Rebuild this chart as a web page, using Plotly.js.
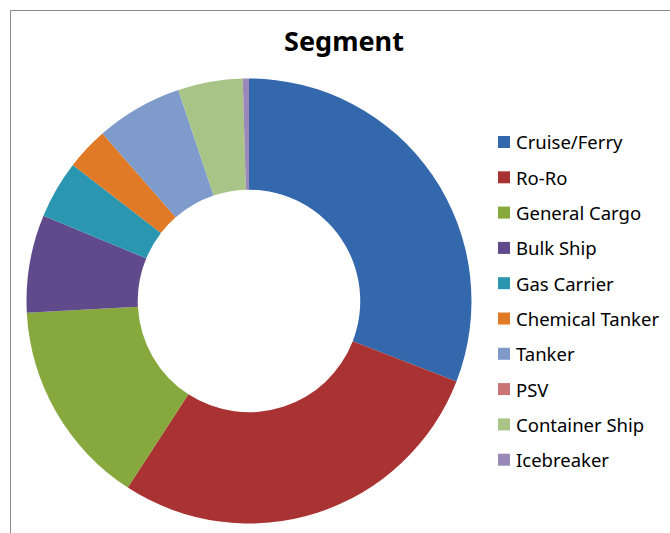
<!DOCTYPE html>
<html>
<head>
<meta charset="utf-8">
<script src="https://cdn.plot.ly/plotly-3.0.1.min.js"></script>
<style>html,body{margin:0;padding:0;background:#fff;}#chart{width:670px;height:533px;}</style>
</head>
<body>
<div id="chart"></div>
<script>
var segments = ["Cruise/Ferry","Ro-Ro","General Cargo","Bulk Ship","Gas Carrier","Chemical Tanker","Tanker","PSV","Container Ship","Icebreaker"];
var shares = [30.9, 28.3, 15.0, 7.1, 4.2, 3.1, 6.3, 0, 4.7, 0.45];
var colors = ["#3468AD","#A93232","#86A83C","#614A8C","#2A96B0","#E07A26","#7E9BCB","#C97575","#A9C487","#9A88B8"];

var W = 670, H = 533;
function px(x){ return x / W; }
function py(y){ return 1 - y / H; }

var cx = 249, cy = 301, R = 222.5;

var trace = {
  type: "pie",
  labels: segments,
  values: shares,
  marker: { colors: colors, line: { width: 0 } },
  hole: 0.5,
  sort: false,
  direction: "clockwise",
  rotation: 0,
  textinfo: "none",
  hoverinfo: "label+percent",
  showlegend: false,
  domain: { x: [px(cx - R), px(cx + R)], y: [py(cy + R), py(cy - R)] }
};

var legendFont = { family: "Noto Sans, Open Sans, sans-serif", size: 18.5, color: "#000" };
var annotations = [];
var shapes = [
  { type: "rect", xref: "paper", yref: "paper", x0: px(10.5), x1: px(700), y0: py(560), y1: py(10.5),
    line: { color: "#8a8a8a", width: 1 }, fillcolor: "rgba(0,0,0,0)", layer: "below" }
];
for (var i = 0; i < segments.length; i++) {
  var yc = 142 + i * 35.3;
  shapes.push({ type: "rect", xref: "paper", yref: "paper",
    x0: px(498), x1: px(510), y0: py(yc + 6), y1: py(yc - 6),
    fillcolor: colors[i], line: { width: 0 } });
  annotations.push({ xref: "paper", yref: "paper", x: px(514), y: py(yc),
    xanchor: "left", yanchor: "middle", showarrow: false,
    text: segments[i], font: legendFont });
}

var layout = {
  width: W, height: H,
  margin: { l: 0, r: 0, t: 0, b: 0 },
  paper_bgcolor: "#fff",
  title: { text: "<b>Segment</b>", x: px(344), y: py(42), xanchor: "center", yanchor: "middle",
    font: { family: "Noto Sans, Open Sans, sans-serif", size: 27, color: "#000" } },
  showlegend: false,
  shapes: shapes,
  annotations: annotations
};

Plotly.newPlot("chart", [trace], layout, { displayModeBar: false, staticPlot: true });
</script>
</body>
</html>
